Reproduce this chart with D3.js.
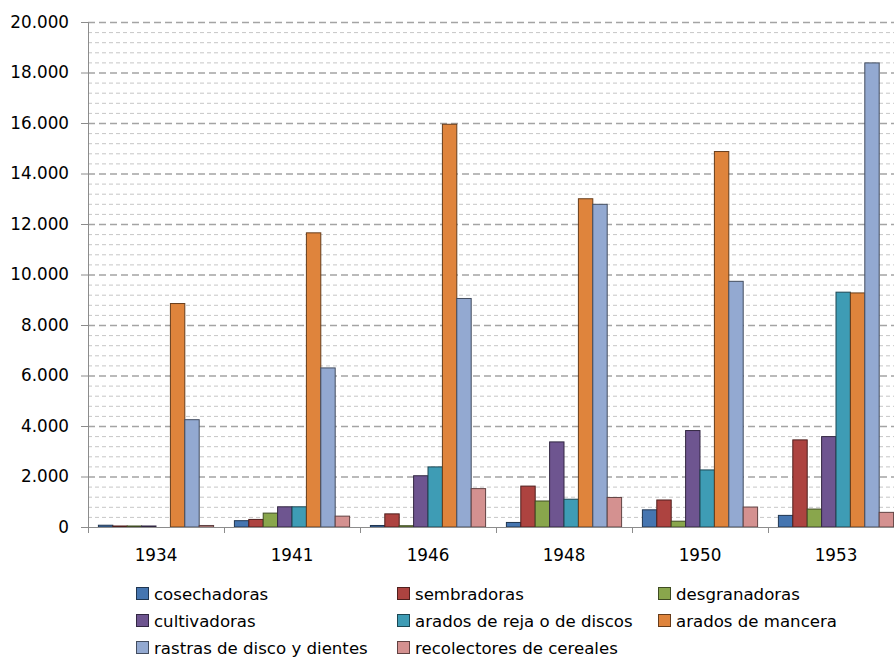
<!DOCTYPE html>
<html>
<head>
<meta charset="utf-8">
<script src="https://cdn.jsdelivr.net/npm/d3@7"></script>
<style>
  body { margin: 0; background: #fff; }
  text { font-family: "DejaVu Sans", sans-serif; fill: #000; }
</style>
</head>
<body>
<svg id="chart" width="894" height="658"></svg>
<script>
// Maquinaria agrícola por año (unidades)
const years = ["1934", "1941", "1946", "1948", "1950", "1953"];

const seriesNames = [
  "cosechadoras", "sembradoras", "desgranadoras", "cultivadoras",
  "arados de reja o de discos", "arados de mancera",
  "rastras de disco y dientes", "recolectores de cereales"
];

const cosechadoras   = [70, 250, 60, 180, 680, 460];
const sembradoras    = [40, 300, 520, 1620, 1070, 3450];
const desgranadoras  = [40, 550, 50, 1030, 230, 710];
const cultivadoras   = [40, 800, 2030, 3370, 3820, 3580];
const aradosReja     = [0, 800, 2380, 1100, 2260, 9300];
const aradosMancera  = [8850, 11650, 15950, 13000, 14870, 9270];
const rastras        = [4250, 6300, 9050, 12780, 9730, 18380];
const recolectores   = [60, 430, 1520, 1170, 790, 580];

const seriesValues = [cosechadoras, sembradoras, desgranadoras, cultivadoras,
                      aradosReja, aradosMancera, rastras, recolectores];

const colors = ["#4575b0", "#ad4340", "#89a64c", "#6e5590",
                "#3e9cb5", "#df843c", "#93a9d1", "#d49190"];

const yTicks = d3.range(0, 20001, 2000);
const yMinor = d3.range(0, 20001, 400).filter(v => v % 2000 !== 0);

const svg = d3.select("#chart");

const plotLeft = 88, plotRight = 904, plotTop = 22, plotBottom = 527;

const x0 = d3.scaleBand().domain(years).range([plotLeft, plotRight]).padding(0);
const gap = x0.bandwidth() * 0.153;
const x1 = d3.scaleBand().domain(seriesNames)
  .range([gap / 2, x0.bandwidth() - gap / 2]).padding(0);
const y = d3.scaleLinear().domain([0, 20000]).range([plotBottom, plotTop]);

const es = d3.formatLocale({ decimal: ",", thousands: ".", grouping: [3], currency: ["", ""] });
const fmt = es.format(",d");

// Gridlines: minor then major
svg.append("g").selectAll("line").data(yMinor).join("line")
  .attr("x1", plotLeft).attr("x2", plotRight)
  .attr("y1", d => y(d) + 0.5).attr("y2", d => y(d) + 0.5)
  .attr("stroke", "#c6c6c6").attr("stroke-width", 1)
  .attr("stroke-dasharray", "4,3");

svg.append("g").selectAll("line").data(yTicks.filter(v => v > 0)).join("line")
  .attr("x1", plotLeft).attr("x2", plotRight)
  .attr("y1", d => y(d) + 0.5).attr("y2", d => y(d) + 0.5)
  .attr("stroke", "#a4a4a4").attr("stroke-width", 1.3)
  .attr("stroke-dasharray", "7,4");

// Bars
const groups = svg.append("g").selectAll("g").data(years).join("g")
  .attr("transform", d => `translate(${x0(d)},0)`);

groups.selectAll("rect")
  .data((yr, i) => seriesNames.map((s, k) => ({ s, k, v: seriesValues[k][i] })).filter(d => d.v > 0))
  .join("rect")
  .attr("x", d => x1(d.s))
  .attr("width", x1.bandwidth())
  .attr("y", d => y(d.v))
  .attr("height", d => y(0) - y(d.v))
  .attr("fill", d => colors[d.k])
  .attr("stroke", d => d3.color(colors[d.k]).darker(2.2))
  .attr("stroke-width", 1);

// Y axis
const yAxis = svg.append("g").attr("transform", `translate(${plotLeft},0)`)
  .call(d3.axisLeft(y).tickValues(yTicks).tickFormat(fmt).tickSize(7).tickPadding(12));
yAxis.select(".domain").attr("stroke", "#8c8c8c");
yAxis.selectAll(".tick line").attr("stroke", "#8c8c8c");
yAxis.selectAll(".tick text").attr("font-size", 16.8).attr("font-family", "DejaVu Sans, sans-serif").attr("fill", "#000");

// X axis
const xAxisG = svg.append("g").attr("transform", `translate(0,${plotBottom})`);
xAxisG.append("line").attr("x1", plotLeft).attr("x2", plotRight).attr("y1", 0.5).attr("y2", 0.5)
  .attr("stroke", "#8c8c8c");
xAxisG.selectAll("line.tk").data(years.map(d => x0(d)).concat([plotRight])).join("line")
  .attr("class", "tk")
  .attr("x1", d => d + 0.5).attr("x2", d => d + 0.5)
  .attr("y1", 0).attr("y2", 6)
  .attr("stroke", "#8c8c8c");
xAxisG.selectAll("text").data(years).join("text")
  .attr("x", d => x0(d) + x0.bandwidth() / 2)
  .attr("y", 34)
  .attr("text-anchor", "middle")
  .attr("font-size", 16.8)
  .text(d => d);

// Legend (3 columns)
const legX = [136, 397, 658];
const legY = [594, 621, 648];
const leg = svg.append("g").selectAll("g").data(seriesNames).join("g")
  .attr("transform", (d, i) => `translate(${legX[i % 3]},${legY[Math.floor(i / 3)]})`);
leg.append("rect")
  .attr("x", 0.5).attr("y", -6.5).attr("width", 12).attr("height", 12)
  .attr("fill", (d, i) => colors[i])
  .attr("stroke", (d, i) => d3.color(colors[i]).darker(2.2));
leg.append("text")
  .attr("x", 18).attr("y", 0).attr("dy", "0.35em")
  .attr("font-size", 16.6)
  .text(d => d);
</script>
</body>
</html>
